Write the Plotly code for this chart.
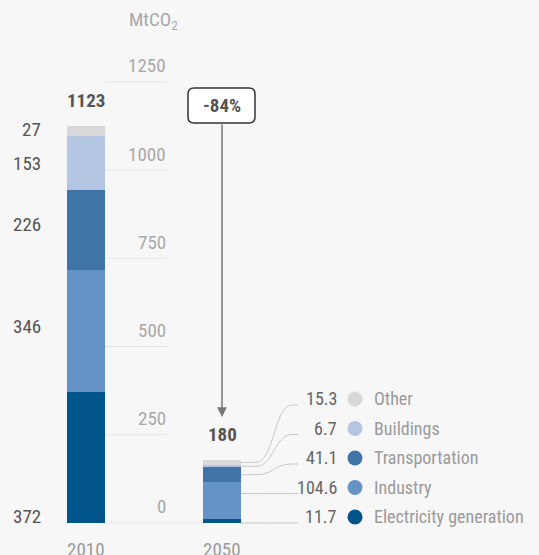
import plotly.graph_objects as go

# data
years = ["2010", "2050"]
sectors = ["Electricity generation", "Industry", "Transportation", "Buildings", "Other"]
values_2010 = [372, 346, 226, 153, 27]
values_2050 = [11.7, 104.6, 41.1, 6.7, 15.3]
totals = [1123, 180]
change_label = "-84%"
y_ticks = [0, 250, 500, 750, 1000, 1250]

colors = ["#02558b", "#6693c5", "#3f74a6", "#b4c5e2", "#d9d9d9"]

FONT = "Roboto Condensed, Roboto, sans-serif"
BG = "#f7f7f7"

# pixel helpers (plot area fills the whole 539x555 page)
PX_X = 136.0          # pixels per category step
X0_PX = 86.0          # centre of first bar
Y_RANGE = [-90.7, 1482.0]
PX_Y = 555.0 / (Y_RANGE[1] - Y_RANGE[0])


def px_x(p):
    return (p - X0_PX) / PX_X


def px_dy(p):
    return p / PX_Y


bar_w = 38 / PX_X
xs = [0, 1]

fig = go.Figure()
for i, name in enumerate(sectors):
    fig.add_trace(go.Bar(
        x=xs, y=[values_2010[i], values_2050[i]], width=bar_w,
        marker=dict(color=colors[i], line_width=0), name=name,
        showlegend=False, hoverinfo="skip"
    ))

annotations = []
shapes = []

# gridlines and tick labels sitting between the bars
for t in y_ticks:
    x_end = px_x(203) if t == 0 else px_x(167)
    shapes.append(dict(type="line", xref="x", yref="y", x0=px_x(105), x1=x_end,
                       y0=t, y1=t, line=dict(color="#e4e4e4", width=1), layer="below"))
    annotations.append(dict(x=px_x(168), y=t, text=str(t), showarrow=False,
                            xanchor="right", yanchor="middle", yshift=16,
                            font=dict(family=FONT, size=19, color="#a8a8a8")))

annotations.append(dict(x=px_x(127), y=1425, text="MtCO<sub>2</sub>", showarrow=False,
                        xanchor="left", yanchor="middle",
                        font=dict(family=FONT, size=19, color="#a8a8a8")))

# year labels
for x, yr in zip(xs, years):
    annotations.append(dict(x=x, y=-74, text=yr, showarrow=False, yanchor="middle",
                            font=dict(family=FONT, size=19, color="#9a9a9a")))

# totals above bars
for x, tot, top in zip(xs, totals, [sum(values_2010), sum(values_2050)]):
    annotations.append(dict(x=x, y=top, text="<b>%d</b>" % tot, showarrow=False,
                            yanchor="bottom", yshift=12,
                            font=dict(family=FONT, size=19, color="#555555")))

# 2010 value labels on the left
left_label_y = [17, 556, 845, 1020, 1114]
for v, ly in zip(values_2010, left_label_y):
    annotations.append(dict(x=px_x(43), y=ly, text=str(v), showarrow=False,
                            xanchor="right", yanchor="middle",
                            font=dict(family=FONT, size=19, color="#555555")))

# -84% box and arrow
bx0, bx1 = px_x(188), px_x(255)
by1 = (523 - 88) / PX_Y
by0 = (523 - 123) / PX_Y
rx, ry = 6 / PX_X, px_dy(6)
path = ("M %f,%f L %f,%f Q %f,%f %f,%f L %f,%f Q %f,%f %f,%f L %f,%f Q %f,%f %f,%f "
        "L %f,%f Q %f,%f %f,%f Z") % (
    bx0 + rx, by0, bx1 - rx, by0, bx1, by0, bx1, by0 + ry,
    bx1, by1 - ry, bx1, by1, bx1 - rx, by1,
    bx0 + rx, by1, bx0, by1, bx0, by1 - ry,
    bx0, by0 + ry, bx0, by0, bx0 + rx, by0)
shapes.append(dict(type="path", xref="x", yref="y", path=path, fillcolor="white",
                   line=dict(color="#333333", width=1.5)))
annotations.append(dict(x=1, y=(by0 + by1) / 2, text="<b>%s</b>" % change_label,
                        showarrow=False, yanchor="middle",
                        font=dict(family=FONT, size=19, color="#555555")))
annotations.append(dict(x=1, y=(523 - 417) / PX_Y, ax=1, ay=by0, axref="x", ayref="y",
                        xref="x", yref="y", text="", showarrow=True, arrowhead=2,
                        arrowsize=1.3, arrowwidth=1.5, arrowcolor="#777777"))

# 2050 legend with leader lines
row_px = [517, 487.5, 458, 428.5, 399]
lx0 = 1 + bar_w / 2
lx1 = px_x(298)
base = 0
for i, name in enumerate(sectors):
    v = values_2050[i]
    lo, hi = base, base + v
    base = hi
    row_y = (523 - row_px[i]) / PX_Y
    end_y = row_y - px_dy(6)
    start_y = end_y if lo <= end_y <= hi else (lo + hi) / 2
    c0 = px_x(256)
    c1 = px_x(292)
    cm = (c0 + c1) / 2
    shapes.append(dict(type="path", xref="x", yref="y",
                       path="M %f,%f L %f,%f C %f,%f %f,%f %f,%f L %f,%f" % (
                           lx0, start_y, c0, start_y,
                           cm, start_y, cm, end_y, c1, end_y,
                           lx1, end_y),
                       line=dict(color="#c8c8c8", width=1)))
    annotations.append(dict(x=px_x(339), y=row_y, text=str(v), showarrow=False,
                            xanchor="right", yanchor="middle",
                            font=dict(family=FONT, size=18, color="#666666")))
    annotations.append(dict(x=px_x(372), y=row_y, text=name, showarrow=False,
                            xanchor="left", yanchor="middle",
                            font=dict(family=FONT, size=18, color="#9a9a9a")))
    fig.add_trace(go.Scatter(x=[px_x(355)], y=[row_y], mode="markers",
                             marker=dict(color=colors[i], size=15), showlegend=False,
                             hoverinfo="skip"))

fig.update_layout(
    barmode="stack",
    width=539, height=555,
    margin=dict(l=0, r=0, t=0, b=0),
    paper_bgcolor=BG, plot_bgcolor=BG,
    xaxis=dict(range=[px_x(0), px_x(539)], visible=False, fixedrange=True),
    yaxis=dict(range=Y_RANGE, visible=False, fixedrange=True),
    shapes=shapes,
    annotations=annotations,
    font=dict(family=FONT),
)

# drop the browser's default body margin so the figure sits at the page corner
fig.write_html("out.html", config={"displayModeBar": False},
               post_script="document.body.style.margin='0';")
